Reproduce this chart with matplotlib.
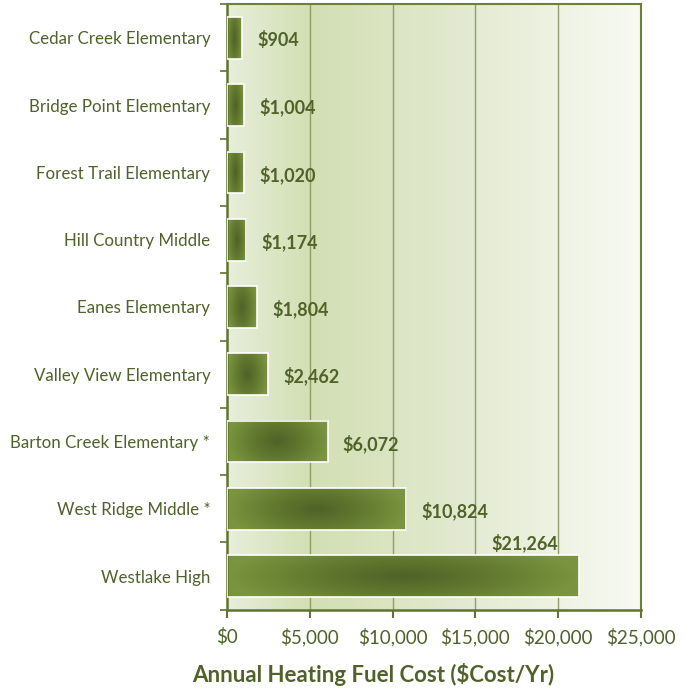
import numpy as np
import matplotlib
matplotlib.use("Agg")
import matplotlib.pyplot as plt
from matplotlib.colors import LinearSegmentedColormap
from matplotlib.patches import Rectangle
from matplotlib.ticker import FuncFormatter

schools = [
    "Cedar Creek Elementary",
    "Bridge Point Elementary",
    "Forest Trail Elementary",
    "Hill Country Middle",
    "Eanes Elementary",
    "Valley View Elementary",
    "Barton Creek Elementary *",
    "West Ridge Middle *",
    "Westlake High",
]
costs = [904, 1004, 1020, 1174, 1804, 2462, 6072, 10824, 21264]
x_ticks = [0, 5000, 10000, 15000, 20000, 25000]

TEXT = "#4f6228"
plt.rcParams["font.family"] = ["Lato", "DejaVu Sans"]

fig = plt.figure(figsize=(6.89, 6.89), dpi=100)
ax = fig.add_axes([0.3295, 0.115, 0.6005, 0.879])

ax.set_xlim(0, 25000)
ax.set_ylim(len(schools) - 0.5, -0.5)

# background: light at left, darkest near $5k, fading to near white at right
bg_cmap = LinearSegmentedColormap.from_list(
    "bg", [(0.0, "#e8eedb"), (0.2, "#d2dfb3"), (0.55, "#e2e9cf"), (1.0, "#f8faf3")])
grad = np.linspace(0, 1, 256).reshape(1, -1)
ax.imshow(grad, cmap=bg_cmap, aspect="auto", extent=(0, 25000, len(schools) - 0.5, -0.5),
          zorder=0, interpolation="bicubic")

for x in x_ticks[1:-1]:
    ax.axvline(x, color="#8f9c6d", lw=1.0, zorder=1)

# bars with a soft radial gradient: dark centre, lighter edges
bar_cmap = LinearSegmentedColormap.from_list("bar", ["#4f6228", "#62792f", "#7a9440"])
h = 0.62
for i, v in enumerate(costs):
    xx = np.linspace(-1, 1, 300)
    yy = np.linspace(-1, 1, 60)
    X, Y = np.meshgrid(xx, yy)
    R = np.clip(np.sqrt(X ** 2 + 0.35 * Y ** 2), 0, 1)
    ax.imshow(R, cmap=bar_cmap, vmin=0, vmax=1, aspect="auto",
              extent=(0, v, i + h / 2, i - h / 2), zorder=2, interpolation="bilinear")
    ax.add_patch(Rectangle((0, i - h / 2), v, h, fill=False, ec="white", lw=1.2, zorder=3))

    lbl = f"${v:,}"
    if v > 20000:
        ax.annotate(lbl, (v, i - h / 2), xytext=(-15, 2), textcoords="offset points",
                    ha="right", va="bottom", fontsize=13, fontweight="bold", color=TEXT)
    else:
        ax.annotate(lbl, (v, i), xytext=(11, -1.5), textcoords="offset points",
                    ha="left", va="center", fontsize=13, fontweight="bold", color=TEXT)

ax.set_yticks(range(len(schools)))
ax.set_yticklabels(schools, fontsize=12.2, color=TEXT)
ax.set_yticks(np.arange(-0.5, len(schools), 1), minor=True)
ax.tick_params(axis="y", which="major", length=0, pad=12)
ax.tick_params(axis="y", which="minor", length=5, color="#5f7530", width=1.2, direction="out")

ax.set_xticks(x_ticks)
ax.xaxis.set_major_formatter(FuncFormatter(lambda v, p: f"${v:,.0f}"))
ax.tick_params(axis="x", length=6, color="#5f7530", width=1.5, direction="out",
               labelsize=13.5, labelcolor=TEXT, pad=7)

for s in ["left", "bottom"]:
    ax.spines[s].set_color("#5f7530")
    ax.spines[s].set_linewidth(1.8)
for s in ["top", "right"]:
    ax.spines[s].set_color("#6d8038")
    ax.spines[s].set_linewidth(1.5)

fig.text(373 / 689, 1 - 675 / 689, "Annual Heating Fuel Cost ($Cost/Yr)", fontsize=16,
         fontweight="bold", color=TEXT, ha="center", va="center")

fig.savefig("out.png", dpi=100)
